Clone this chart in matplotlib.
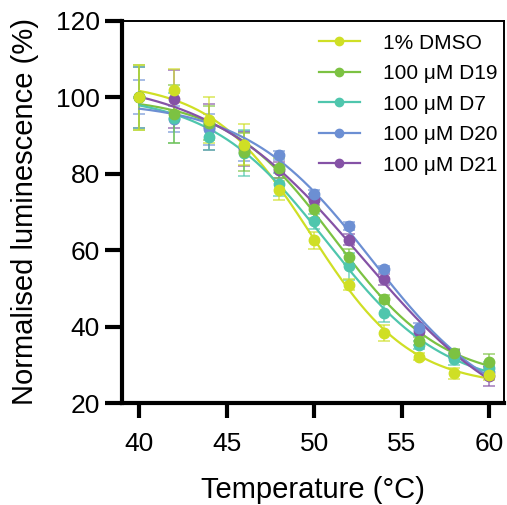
import numpy as np
import matplotlib
matplotlib.use("Agg")
import matplotlib.pyplot as plt

plt.rcParams['font.family'] = ['Liberation Sans', 'DejaVu Sans']

# temperatures (°C)
temps = [40, 42, 44, 46, 48, 50, 52, 54, 56, 58, 60]

# mean normalised luminescence (%)
dmso = [100, 101.9, 94.1, 87.6, 75.7, 62.6, 51.0, 38.4, 32.2, 27.8, 27.4]
d19 = [100, 95.6, 93.3, 85.7, 81.5, 70.9, 58.3, 47.2, 36.3, 33.2, 30.9]
d7 = [100, 94.6, 89.6, 85.4, 77.3, 67.6, 55.8, 43.7, 35.2, 31.6, 29.2]
d20 = [100, 94.3, 91.6, 87.3, 84.8, 74.8, 66.4, 55.0, 39.6, 32.8, 28.3]
d21 = [100, 99.5, 92.2, 86.5, 81.0, 73.2, 62.8, 52.4, 38.9, 33.0, 27.1]

# error bars
dmso_err = [8.5, 5.5, 6.0, 5.4, 2.5, 2.3, 1.5, 2.0, 1.0, 1.5, 1.2]
d19_err = [8.5, 7.5, 4.5, 5.0, 2.5, 2.5, 2.0, 1.0, 1.0, 1.0, 2.0]
d7_err = [8.0, 6.5, 3.5, 6.0, 3.0, 2.0, 3.5, 2.5, 1.0, 1.5, 1.5]
d20_err = [4.5, 3.5, 4.0, 4.0, 1.2, 1.0, 1.0, 0.8, 1.5, 1.0, 1.5]
d21_err = [8.0, 7.5, 6.0, 4.5, 2.0, 1.5, 1.5, 1.5, 1.0, 1.0, 2.5]

labels = ['1% DMSO', '100 μM D19', '100 μM D7', '100 μM D20', '100 μM D21']
colors = ['#cfdf25', '#7cc242', '#4fc6ad', '#6c8fd3', '#8552a6']
series = [dmso, d19, d7, d20, d21]
errors = [dmso_err, d19_err, d7_err, d20_err, d21_err]


def boltzmann_fit(x, y):
    # grid search over Tm and slope, linear least squares for top/bottom
    x = np.asarray(x, float)
    y = np.asarray(y, float)
    best = None
    for tm in np.arange(44, 58, 0.05):
        for s in np.arange(1.0, 8.0, 0.05):
            f = 1.0 / (1.0 + np.exp((x - tm) / s))
            A = np.column_stack([1 - f, f])
            coef, res, _, _ = np.linalg.lstsq(A, y, rcond=None)
            err = np.sum((A @ coef - y) ** 2)
            if best is None or err < best[0]:
                best = (err, coef[0], coef[1], tm, s)
    return best[1:]


fig = plt.figure(figsize=(5.07, 5.05), dpi=100)
ax = fig.add_axes([0.2406, 0.2014, 0.9940 - 0.2406, 0.959 - 0.2014])

xs = np.linspace(40, 60, 300)
handles = []
for i in [3, 4, 2, 1, 0]:
    y = series[i]
    c = colors[i]
    bottom, top, tm, s = boltzmann_fit(temps, y)
    fit = bottom + (top - bottom) / (1 + np.exp((xs - tm) / s))
    ax.plot(xs, fit, color=c, lw=1.6, zorder=2 + i * 0.1)
    ax.errorbar(temps, y, yerr=errors[i], fmt='none', ecolor=c, alpha=0.65,
                elinewidth=1.3, capsize=4.5, capthick=1.3, zorder=1)
    ax.plot(temps, y, 'o', color=c, ms=7.5, zorder=3 + (4 - i) * 0.1)

for i in range(5):
    handles.append(plt.Line2D([], [], color=colors[i], lw=1.6, marker='o', ms=6))

ax.legend(handles, labels, loc='upper left', bbox_to_anchor=(0.516, 0.966),
          frameon=False, fontsize=15, handlelength=1.95, handletextpad=1.1,
          labelspacing=0.55, borderpad=0, borderaxespad=0)

ax.set_xlim(39.0, 60.84)
ax.set_ylim(20, 120)
ax.set_xticks([40, 45, 50, 55, 60])
ax.set_yticks([20, 40, 60, 80, 100, 120])

for side in ['left', 'bottom']:
    ax.spines[side].set_linewidth(3)
for side in ['top', 'right']:
    ax.spines[side].set_linewidth(1.4)

ax.tick_params(axis='both', labelsize=19, width=3, direction='out')
ax.tick_params(axis='y', length=12, pad=4)
ax.tick_params(axis='x', length=11, pad=10)

ax.set_xlabel('Temperature (°C)', fontsize=21, labelpad=14)
ax.set_ylabel('Normalised luminescence (%)', fontsize=21, labelpad=12)

fig.savefig('out.png', dpi=100)
